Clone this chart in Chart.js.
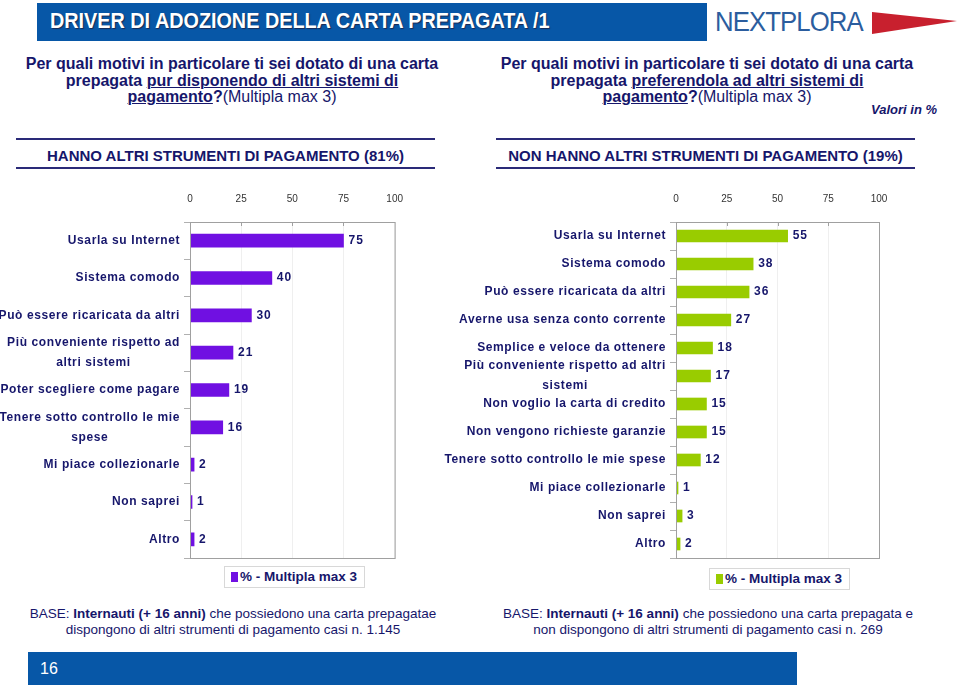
<!DOCTYPE html>
<html>
<head>
<meta charset="utf-8">
<script src="https://cdn.jsdelivr.net/npm/chart.js@4.4.1/dist/chart.umd.min.js"></script>
<style>
  body { margin: 0; width: 960px; height: 687px; position: relative; overflow: hidden; background: #fff;
         font-family: "Liberation Sans Narrow", "Arial Narrow", "Liberation Sans", Arial, sans-serif; color: #16166b; }
  .abs { position: absolute; }
  #titlebar { left: 37px; top: 3px; width: 670px; height: 38px; background: #0757a7; }
  #title { left: 50px; top: 8px; font-size: 22px; font-weight: bold; color: #fff; text-shadow: 1px 1px 1px #1a2a55;
           white-space: nowrap; transform: scaleX(0.9); transform-origin: left top; }
  #logo { left: 715px; top: 6px; font-family: "Liberation Sans", Arial, sans-serif; font-size: 28px; color: #2b5d9e;
          letter-spacing: -1px; transform: scaleX(0.92); transform-origin: left top; }
  .q { width: 450px; text-align: center; font-size: 16px; font-weight: bold; line-height: 16.5px; top: 56px; }
  .q u { text-decoration-thickness: 1px; }
  .q span { font-weight: normal; }
  #valori { left: 850px; top: 102px; width: 87px; text-align: right; font-size: 13px; font-weight: bold; font-style: italic; }
  .hline { height: 2px; background: #2a2a78; width: 419px; }
  .head { font-family: "Liberation Sans", Arial, sans-serif; font-weight: bold; font-size: 15px; width: 419px; text-align: center; top: 147px; }
  canvas { position: absolute; }
  .legend { border: 1px solid #d8d8d8; height: 20px; font-size: 13.5px; font-weight: bold; line-height: 20px; padding: 0 7px 0 6px; white-space: nowrap; }
  .legend i { display: inline-block; width: 7px; height: 10px; margin-right: 2px; vertical-align: -1px; }
  .base { width: 460px; text-align: center; font-size: 13.5px; line-height: 16px; top: 606px; }
  .base b { font-weight: bold; }
  #footer { left: 28px; top: 652px; width: 769px; height: 33px; background: #0757a7; }
  #pagenum { left: 40px; top: 660px; color: #fff; font-size: 16px; }
</style>
</head>
<body>
<div class="abs" id="titlebar"></div>
<div class="abs" id="title">DRIVER DI ADOZIONE DELLA CARTA PREPAGATA /1</div>
<div class="abs" id="logo">NEXTPLORA</div>
<svg class="abs" style="left:870px;top:10px" width="90" height="28">
  <polygon points="2,2 87,11 2,24" fill="#c8202e"/>
</svg>

<div class="abs q" style="left:7px">Per quali motivi in particolare ti sei dotato di una carta<br>prepagata <u>pur disponendo di altri sistemi di<br>pagamento</u>?<span>(Multipla max 3)</span></div>
<div class="abs q" style="left:482px">Per quali motivi in particolare ti sei dotato di una carta<br>prepagata <u>preferendola ad altri sistemi di<br>pagamento</u>?<span>(Multipla max 3)</span></div>
<div class="abs" id="valori">Valori in %</div>

<div class="abs hline" style="left:16px;top:138px"></div>
<div class="abs hline" style="left:16px;top:167px"></div>
<div class="abs head" style="left:16px">HANNO ALTRI STRUMENTI DI PAGAMENTO (81%)</div>
<div class="abs hline" style="left:496px;top:138px"></div>
<div class="abs hline" style="left:496px;top:167px"></div>
<div class="abs head" style="left:496px">NON HANNO ALTRI STRUMENTI DI PAGAMENTO (19%)</div>

<canvas id="leftChart" width="420" height="380" style="left:0;top:185px"></canvas>
<canvas id="rightChart" width="520" height="380" style="left:440px;top:185px"></canvas>

<div class="abs legend" id="legLeft" style="left:224px;top:566px"></div>
<div class="abs legend" id="legRight" style="left:709px;top:568px"></div>

<div class="abs base" style="left:3px">BASE: <b>Internauti (+ 16 anni)</b> che possiedono una carta prepagatae<br>dispongono di altri strumenti di pagamento casi n. 1.145</div>
<div class="abs base" style="left:478px">BASE: <b>Internauti (+ 16 anni)</b> che possiedono una carta prepagata e<br>non dispongono di altri strumenti di pagamento casi n. 269</div>

<div class="abs" id="footer"></div>
<div class="abs" id="pagenum">16</div>

<script>
// dati
const leftLabels = [
  'Usarla su Internet',
  'Sistema comodo',
  'Può essere ricaricata da altri',
  ['Più conveniente rispetto ad', 'altri sistemi'],
  'Poter scegliere come pagare',
  ['Tenere sotto controllo le mie', 'spese'],
  'Mi piace collezionarle',
  'Non saprei',
  'Altro'
]
const leftValues = [75, 40, 30, 21, 19, 16, 2, 1, 2]

const rightLabels = [
  'Usarla su Internet',
  'Sistema comodo',
  'Può essere ricaricata da altri',
  'Averne usa senza conto corrente',
  'Semplice e veloce da ottenere',
  ['Più conveniente rispetto ad altri', 'sistemi'],
  'Non voglio la carta di credito',
  'Non vengono richieste garanzie',
  'Tenere sotto controllo le mie spese',
  'Mi piace collezionarle',
  'Non saprei',
  'Altro'
]
const rightValues = [55, 38, 36, 27, 18, 17, 15, 15, 12, 1, 3, 2]

const xTicks = [0, 25, 50, 75, 100]
const seriesName = '% - Multipla max 3'

const navy = '#16166b'
const purple = '#7010e2'
const green = '#99cc00'

// etichette categoria: righe centrate tra loro, blocco allineato a destra
const yLabels = {
  id: 'yLabels',
  afterDraw(chart) {
    const ctx = chart.ctx
    const y = chart.scales.y
    ctx.save()
    ctx.font = 'bold 12px "Liberation Sans", Arial, sans-serif'
    ctx.letterSpacing = '0.6px'
    ctx.fillStyle = navy
    ctx.textAlign = 'center'
    ctx.textBaseline = 'middle'
    chart.data.labels.forEach((lab, i) => {
      const lines = Array.isArray(lab) ? lab : [lab]
      const w = Math.max(...lines.map(l => ctx.measureText(l).width))
      const cx = y.right - 10 - w / 2
      const cy = y.getPixelForTick(i)
      lines.forEach((l, k) => ctx.fillText(l, cx, cy + (k - (lines.length - 1) / 2) * 20))
    })
    ctx.restore()
  }
}

// valori in fondo alle barre + bordo area
const barValues = {
  id: 'barValues',
  afterDatasetsDraw(chart) {
    const ctx = chart.ctx
    const area = chart.chartArea
    const x = chart.scales.x
    ctx.save()
    ctx.strokeStyle = '#a0a0a0'
    ctx.lineWidth = 1
    ctx.strokeRect(area.left + 0.5, area.top + 0.5, area.right - area.left, area.bottom - area.top)
    xTicks.slice(1, -1).forEach(v => {
      const px = Math.round(x.getPixelForValue(v)) + 0.5
      ctx.beginPath()
      ctx.moveTo(px, area.top)
      ctx.lineTo(px, area.top + 4)
      ctx.stroke()
    })
    ctx.font = 'bold 12px "Liberation Sans", Arial, sans-serif'
    ctx.letterSpacing = '1px'
    ctx.fillStyle = navy
    ctx.textBaseline = 'middle'
    const vals = chart.data.datasets[0].data
    chart.getDatasetMeta(0).data.forEach((bar, i) => {
      ctx.fillText(vals[i], bar.x + 5, bar.y)
    })
    ctx.restore()
  }
}

function makeChart(id, labels, values, color, yWidth, rightPad, thick) {
  const ctx = document.getElementById(id).getContext('2d')
  return new Chart(ctx, {
    type: 'bar',
    data: {
      labels: labels,
      datasets: [{
        label: seriesName,
        data: values,
        backgroundColor: color,
        barThickness: thick
      }]
    },
    options: {
      indexAxis: 'y',
      responsive: false,
      animation: false,
      layout: { padding: { left: 0, right: rightPad, top: 0, bottom: 7 } },
      plugins: { legend: { display: false }, tooltip: { enabled: false } },
      scales: {
        x: {
          position: 'top',
          min: 0,
          max: 100,
          afterBuildTicks: s => { s.ticks = xTicks.map(v => ({ value: v })) },
          afterFit: s => { s.height = 37 },
          ticks: { padding: 17, color: '#333', font: { family: '"Liberation Sans", Arial', size: 10 } },
          grid: { drawTicks: false, color: '#efefef' },
          border: { color: '#a0a0a0' }
        },
        y: {
          afterFit: s => { s.width = yWidth },
          ticks: { display: false, autoSkip: false },
          grid: { offset: true, drawOnChartArea: false, tickLength: 6, color: '#b0b0b0' },
          border: { color: '#a0a0a0' }
        }
      }
    },
    plugins: [yLabels, barValues]
  })
}

makeChart('leftChart', leftLabels, leftValues, purple, 190, 24, 13)
makeChart('rightChart', rightLabels, rightValues, green, 236, 81, 12)

document.getElementById('legLeft').innerHTML = '<i style="background:' + purple + '"></i>' + seriesName
document.getElementById('legRight').innerHTML = '<i style="background:' + green + '"></i>' + seriesName
</script>
</body>
</html>
